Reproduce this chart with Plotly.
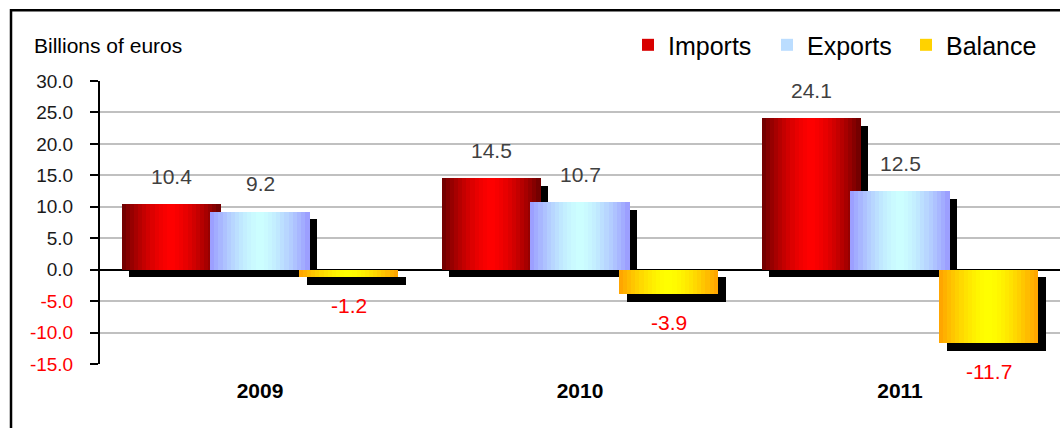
import plotly.graph_objects as go

# ---------------- data ----------------
categories = ["2009", "2010", "2011"]
imports = [10.4, 14.5, 24.1]
exports = [9.2, 10.7, 12.5]
balance = [-1.2, -3.9, -11.7]
series_names = ["Imports", "Exports", "Balance"]
y_tick_values = [-15, -10, -5, 0, 5, 10, 15, 20, 25, 30]
y_tick_labels = ["-15.0", "-10.0", "-5.0", "0.0", "5.0", "10.0", "15.0", "20.0", "25.0", "30.0"]
y_title = "Billions of euros"

# ---------------- style ----------------
FONT = "Arial, 'Liberation Sans', sans-serif"
BAR_W = 0.309
OFFSETS = [-0.277, 0.0, 0.277]
SHADOW_DX = 0.0234
SHADOW_DY = 1.19
N_SLICES = 24
GRADIENTS = [("#6B0000", "#FF0000"), ("#9999FF", "#CCFFFF"), ("#FFA000", "#FFFF00")]
LEGEND_COLORS = ["#D80000", "#BBDDFF", "#FFD200"]


def hex_to_rgb(h):
    h = h.lstrip("#")
    return tuple(int(h[i:i + 2], 16) for i in (0, 2, 4))


def mix(c_edge, c_center, f):
    a, b = hex_to_rgb(c_edge), hex_to_rgb(c_center)
    return "rgb(%d,%d,%d)" % tuple(round(a[j] + (b[j] - a[j]) * f) for j in range(3))


def profile(t):
    return 1 - abs(2 * t - 1) ** 1.5


fig = go.Figure()
all_values = [imports, exports, balance]
idx = list(range(len(categories)))

for s, vals in enumerate(all_values):
    off = OFFSETS[s]
    # shadow
    fig.add_trace(go.Bar(
        x=[i + off + SHADOW_DX for i in idx], y=vals, base=[-SHADOW_DY] * len(vals),
        width=BAR_W, marker=dict(color="black", line=dict(width=0)),
        showlegend=False, hoverinfo="skip"))
    # gradient slices
    xs, ys, cs = [], [], []
    for i, v in zip(idx, vals):
        for k in range(N_SLICES):
            t = (k + 0.5) / N_SLICES
            xs.append(i + off - BAR_W / 2 + t * BAR_W)
            ys.append(v)
            cs.append(mix(GRADIENTS[s][0], GRADIENTS[s][1], profile(t)))
    fig.add_trace(go.Bar(
        x=xs, y=ys, width=BAR_W / N_SLICES + 0.002,
        marker=dict(color=cs, line=dict(width=0)),
        showlegend=False, hoverinfo="skip"))

# legend entries
for s, name in enumerate(series_names):
    fig.add_trace(go.Bar(x=[None], y=[None], name=name,
                         marker=dict(color=LEGEND_COLORS[s], line=dict(width=0))))

# data labels
annotations = []
for s, vals in enumerate(all_values):
    for i, v in zip(idx, vals):
        annotations.append(dict(
            x=i + OFFSETS[s], y=v, xref="x", yref="y", text="%.1f" % v,
            showarrow=False, yanchor="middle", yshift=28 if v > 0 else -28,
            font=dict(family=FONT, size=21, color="#404040" if v > 0 else "#FF0000")))

annotations.append(dict(
    x=-0.071, y=1.127, xref="paper", yref="paper", text=y_title, showarrow=False,
    xanchor="left", yanchor="middle", font=dict(family=FONT, size=21, color="black")))

tick_text = [
    ("<span style='color:#FF0000'>%s</span>" % lab) if val < 0 else lab
    for val, lab in zip(y_tick_values, y_tick_labels)
]

fig.update_layout(
    width=1060, height=428, autosize=False,
    margin=dict(l=100, r=0, t=81, b=63.5, pad=0),
    paper_bgcolor="white", plot_bgcolor="white",
    barmode="overlay", bargap=0,
    font=dict(family=FONT, color="#1a1a1a"),
    showlegend=True,
    legend=dict(orientation="h", x=0.55, y=1.127, xanchor="left", yanchor="middle",
                font=dict(family=FONT, size=25, color="black"),
                bgcolor="rgba(0,0,0,0)", entrywidth=94, entrywidthmode="pixels",
                traceorder="normal"),
    annotations=annotations,
    shapes=[dict(type="rect", xref="paper", yref="paper",
                 x0=-0.0927, x1=1.2, y0=-0.4, y1=1.25,
                 line=dict(color="black", width=2.5), layer="below")],
    xaxis=dict(range=[-0.5, 2.5], tickvals=idx, ticktext=categories,
               showgrid=False, zeroline=False, showline=False, ticks="",
               tickfont=dict(family=FONT, size=21, color="black", weight="bold"),
               ticklabelstandoff=12, fixedrange=True),
    yaxis=dict(range=[-15, 30], tickvals=y_tick_values, ticktext=tick_text,
               showgrid=True, gridcolor="#C0C0C0", gridwidth=2,
               zeroline=True, zerolinecolor="black", zerolinewidth=2,
               showline=True, linecolor="black", linewidth=2,
               ticks="outside", ticklen=8, tickwidth=2, tickcolor="black",
               tickfont=dict(family=FONT, size=19, color="#1a1a1a"),
               ticklabelstandoff=13, fixedrange=True),
)

fig.write_html("out.html", config={"displayModeBar": False},
               post_script="document.body.style.margin='0px';")
